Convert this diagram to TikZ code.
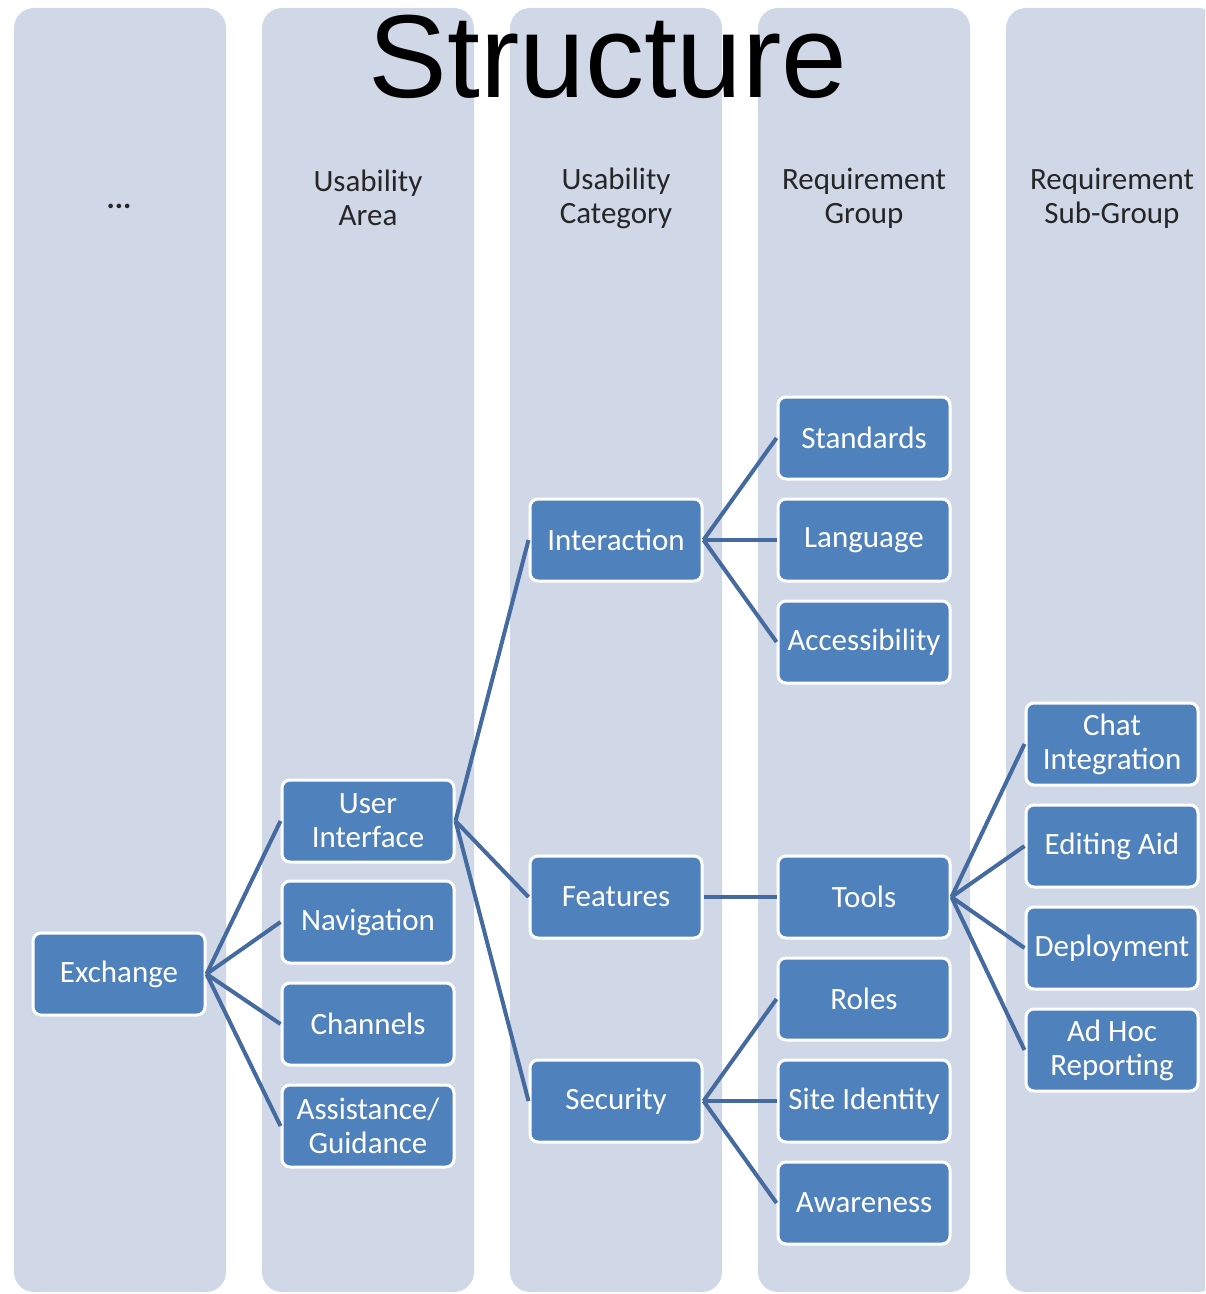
\documentclass[tikz,border=0pt]{standalone}
\usepackage{fontspec}
\setmainfont{Carlito}
\newfontfamily\titlefont{Liberation Sans}
\usepackage{xcolor}
\definecolor{lanebg}{RGB}{208,216,232}
\definecolor{boxblue}{RGB}{79,129,189}
\definecolor{linkblue}{RGB}{68,106,160}

\tikzset{
  lane/.style={fill=lanebg,rounded corners=10pt},
  item/.style={fill=boxblue,draw=white,line width=1.5pt,rounded corners=4pt,
    minimum width=86pt,minimum height=41pt,inner sep=2pt,
    text=white,align=center,font=\fontsize{15.5}{17}\selectfont},
  head/.style={align=center,text=black!85,font=\fontsize{15.5}{17}\selectfont},
  link/.style={draw=linkblue,line width=2pt}
}

\begin{document}
\begin{tikzpicture}[x=0.5pt,y=-0.5pt]
\useasboundingbox (0,0) rectangle (1205,1294);
\clip (0,0) rectangle (1205,1294);

% lanes
\foreach \cx in {14,262,510,758,1006}
  \fill[lane] (\cx,8) rectangle ++(212,1284);

% title and lane headings
\node[font=\titlefont\fontsize{59}{59}\selectfont] (title) at (608,57) {Structure};
\node[head] (h1) at (119,206) {\textbf{...}};
\node[head] (h2) at (368,198) {Usability\\Area};
\node[head] (h3) at (616,198) {Usability\\Category};
\node[head] (h4) at (864,198) {Requirement\\Group};
\node[head] (h5) at (1112,198) {Requirement\\Sub-Group};

% boxes
\node[item] (exch) at (119,974) {Exchange};

\node[item] (ui) at (368,821) {User\\Interface};
\node[item] (nav) at (368,922) {Navigation};
\node[item] (chan) at (368,1024) {Channels};
\node[item] (assist) at (368,1126) {Assistance/\\Guidance};

\node[item] (inter) at (616,540) {Interaction};
\node[item] (feat) at (616,897) {Features};
\node[item] (sec) at (616,1101) {Security};

\node[item] (stand) at (864,438) {Standards};
\node[item] (lang) at (864,540) {Language};
\node[item] (access) at (864,642) {Accessibility};
\node[item] (tools) at (864,897) {Tools};
\node[item] (roles) at (864,999) {Roles};
\node[item] (site) at (864,1101) {Site Identity};
\node[item] (aware) at (864,1203) {Awareness};

\node[item] (chat) at (1112,744) {Chat\\Integration};
\node[item] (edit) at (1112,846) {Editing Aid};
\node[item] (deploy) at (1112,948) {Deployment};
\node[item] (adhoc) at (1112,1050) {Ad Hoc\\Reporting};

% links
\foreach \a/\b in {exch/ui,exch/nav,exch/chan,exch/assist,
    ui/inter,ui/feat,ui/sec,
    inter/stand,inter/lang,inter/access,
    feat/tools,
    sec/roles,sec/site,sec/aware,
    tools/chat,tools/edit,tools/deploy,tools/adhoc}
  \draw[link] (\a.east) -- (\b.west);
\end{tikzpicture}
\end{document}
